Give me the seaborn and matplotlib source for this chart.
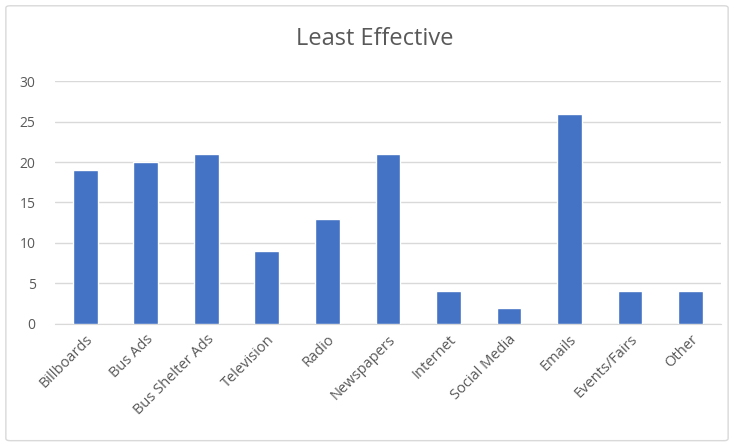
import seaborn as sns
import matplotlib.pyplot as plt
import pandas as pd
from matplotlib.patches import FancyBboxPatch

# Data
categories = ["Billboards", "Bus Ads", "Bus Shelter Ads", "Television", "Radio", "Newspapers",
              "Internet", "Social Media", "Emails", "Events/Fairs", "Other"]
counts = [19, 20, 21, 9, 13, 21, 4, 2, 26, 4, 4]

data = pd.DataFrame({'Method': categories, 'Count': counts})

sns.set_style('white')
plt.rcParams['font.family'] = ['Open Sans', 'DejaVu Sans']

fig = plt.figure(figsize=(7.34, 4.46), dpi=100)
ax = fig.add_axes([0.075, 0.274, 0.907, 0.544])

sns.barplot(x='Method', y='Count', data=data, color='#4472C4', saturation=1, width=0.41, ax=ax, zorder=3)

ax.set_ylim(0, 30)
ax.set_yticks(range(0, 31, 5))
ax.set_xlim(-0.5, len(categories) - 0.5)
ax.grid(True, axis='y', color='#D9D9D9', linewidth=1, zorder=0)
ax.set_xlabel('')
ax.set_ylabel('')
for s in ['top', 'right', 'left']:
    ax.spines[s].set_visible(False)
ax.spines['bottom'].set_color('#D9D9D9')
ax.tick_params(axis='both', length=0, colors='#595959', labelsize=10.5)
ax.tick_params(axis='y', pad=14, labelsize=10)
ax.tick_params(axis='x', pad=6)
plt.setp(ax.get_xticklabels(), rotation=45, ha='right', rotation_mode='anchor')

fig.text(0.51, 0.912, 'Least Effective', ha='center', va='center', fontsize=17, color='#595959')

# chart border
border = FancyBboxPatch((0.008, 0.012), 0.984, 0.975, boxstyle='round,pad=0,rounding_size=0.005',
                        transform=fig.transFigure, fill=False, edgecolor='#D9D9D9', linewidth=1)
fig.patches.append(border)

fig.savefig('out.png', dpi=100)
